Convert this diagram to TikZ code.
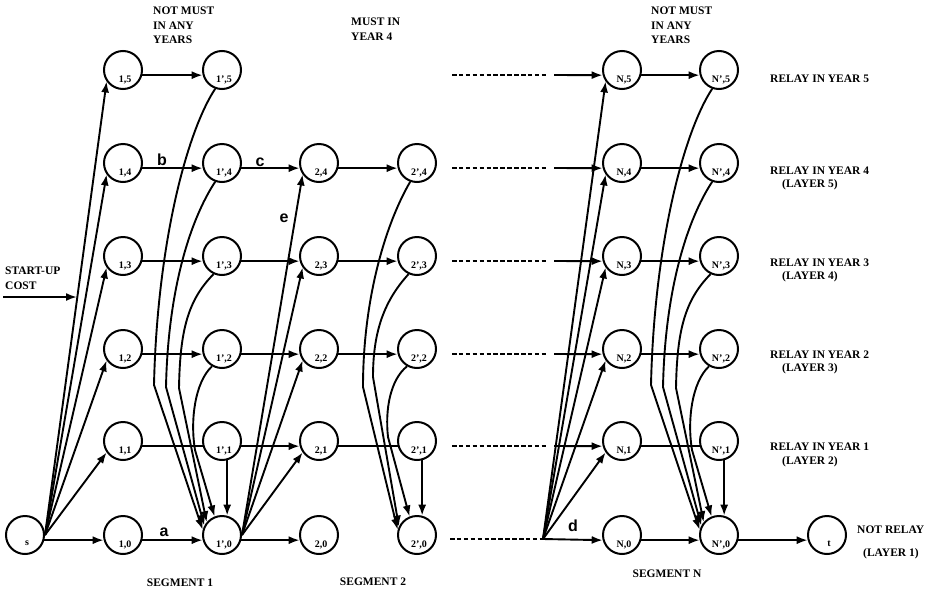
\documentclass[tikz,border=0pt]{standalone}
\usepackage{fontspec}
\setmainfont{Liberation Serif}
\newfontfamily\letterfont{Liberation Sans}
\usetikzlibrary{arrows.meta}
\begin{document}
\begin{tikzpicture}[x=1pt,y=-1pt,
  st/.style={circle,draw,line width=2pt,minimum size=38pt,inner sep=0pt,
    label={[nl,label distance=-14.5pt,xshift=2pt]below:#1}},
  nl/.style={inner sep=0pt,font=\fontsize{10}{10}\selectfont\bfseries},
  ed/.style={line width=1.9pt,-{Latex[length=11pt,width=8pt]}},
  pl/.style={line width=1.9pt},
  dl/.style={line width=1.9pt,dash pattern=on 4.5pt off 2.4pt},
  tx/.style={inner sep=0pt,align=left,font=\fontsize{11.5}{14.5}\selectfont\bfseries},
  lt/.style={inner sep=0pt,font=\fontsize{16}{16}\selectfont\letterfont\bfseries},
]
\useasboundingbox (0,0) rectangle (934,592);

% ---------- nodes ----------
\node[st=s] (s) at (25,535) {};
\node[st=t] (t) at (827,535) {};
\foreach \k/\y in {0/535,1/441,2/349,3/256,4/163,5/70}{
  \node[st={1,\k}]  (a\k) at (123,\y) {};
  \node[st={1',\k}] (b\k) at (222,\y) {};
  \node[st={N,\k}]  (e\k) at (622,\y) {};
  \node[st={N',\k}] (f\k) at (719,\y) {};
}
\foreach \k/\y in {0/535,1/441,2/349,3/256,4/163}{
  \node[st={2,\k}]  (c\k) at (319,\y) {};
  \node[st={2',\k}] (d\k) at (417,\y) {};
}

% ---------- segment 1 ----------
\coordinate (su0) at (3,297);
\coordinate (su1) at (77,297);
\draw[ed] (su0) -- (su1);
\draw[ed] (s.-15) -- (a0.195);
\foreach \k in {1,...,5} \draw[ed] (s.east) -- (a\k.215);
\foreach \k in {0,2,3,4,5} \draw[ed] (a\k.-15) -- (b\k.195);
\draw[pl] (a1.-15) -- (b1.195);
\foreach \k in {0,...,4} \draw[ed] (b\k.-15) -- (c\k.195);
\foreach \k in {1,...,4} \draw[ed] (b0.east) -- (c\k.215);
\draw[ed] (b5.250) .. controls (185,135) and (157,250) .. (154,385) -- (b0.165);
\draw[ed] (b4.250) .. controls (190,220) and (168,290) .. (166,387) -- (b0.152);
\draw[ed] (b3.245) .. controls (188,300) and (180,330) .. (179,388) -- (b0.140);
\draw[ed] (b2.240) .. controls (195,382) and (190,420) .. (195,450) -- (b0.112);
\draw[ed] (b1.-75) -- (b0.75);

% ---------- segment 2 ----------
\foreach \k in {2,3,4} \draw[ed] (c\k.-15) -- (d\k.195);
\draw[pl] (c1.-15) -- (d1.195);
\draw[ed] (d4.250) .. controls (385,225) and (363,300) .. (363,387) -- (d0.165);
\draw[ed] (d3.245) .. controls (385,300) and (373,330) .. (373,377) -- (d0.155);
\draw[ed] (d2.240) .. controls (390,380) and (385,410) .. (388,437) -- (d0.112);
\draw[ed] (d1.-75) -- (d0.75);

% ---------- intermediate segments ----------
\foreach \k/\y in {1/446,2/354,3/261,4/168,5/75}{
  \coordinate (p\k) at (452,\y);
  \coordinate (q\k) at (548,\y);
  \coordinate (r\k) at (554,\y);
  \draw[dl] (p\k) -- (q\k);
  \draw[ed] (r\k) -- (e\k.195);
}
\coordinate (p0) at (450,539);
\coordinate (dd) at (543,539);
\draw[dl] (p0) -- (dd);

% ---------- segment N ----------
\draw[ed] (dd) -- (e0.195);
\foreach \k in {1,...,5} \draw[ed] (dd) -- (e\k.215);
\foreach \k in {0,2,3,4,5} \draw[ed] (e\k.-15) -- (f\k.195);
\draw[pl] (e1.-15) -- (f1.195);
\draw[ed] (f5.250) .. controls (682,135) and (654,250) .. (651,385) -- (f0.165);
\draw[ed] (f4.250) .. controls (687,220) and (665,290) .. (663,387) -- (f0.152);
\draw[ed] (f3.245) .. controls (685,300) and (677,330) .. (676,388) -- (f0.140);
\draw[ed] (f2.240) .. controls (692,382) and (687,420) .. (692,450) -- (f0.112);
\draw[ed] (f1.-75) -- (f0.75);
\draw[ed] (f0.-15) -- (t.195);

% ---------- arc letters ----------
\node[lt] (la) at (164,532) {a};
\node[lt] (lb) at (162,160) {b};
\node[lt] (lc) at (260,162) {c};
\node[lt] (ld) at (573,526) {d};
\node[lt] (le) at (284,218) {e};

% ---------- texts ----------
\node[tx,anchor=north west] (top1) at (153,7) {NOT MUST\\IN ANY\\YEARS};
\node[tx,anchor=north west] (top2) at (351,18) {MUST IN\\YEAR 4};
\node[tx,anchor=north west] (top3) at (651,7) {NOT MUST\\IN ANY\\YEARS};
\node[tx,anchor=north west] (sut) at (5,267) {START-UP\\COST};

\node[tx,anchor=west] (y5) at (770,79) {RELAY IN YEAR 5};
\node[tx,anchor=west] (y4) at (770,171) {RELAY IN YEAR 4};
\node[tx,anchor=west] (l5) at (782,185) {(LAYER 5)};
\node[tx,anchor=west] (y3) at (770,263) {RELAY IN YEAR 3};
\node[tx,anchor=west] (l4) at (782,277) {(LAYER 4)};
\node[tx,anchor=west] (y2) at (770,355) {RELAY IN YEAR 2};
\node[tx,anchor=west] (l3) at (782,369) {(LAYER 3)};
\node[tx,anchor=west] (y1) at (770,447) {RELAY IN YEAR 1};
\node[tx,anchor=west] (l2) at (782,462) {(LAYER 2)};
\node[tx,anchor=west] (nr) at (857,530) {NOT RELAY};
\node[tx,anchor=west] (l1) at (863,554) {(LAYER 1)};

\node[tx] (sg1) at (180,583) {SEGMENT 1};
\node[tx] (sg2) at (373,582) {SEGMENT 2};
\node[tx] (sgn) at (667,574) {SEGMENT N};
\end{tikzpicture}
\end{document}
